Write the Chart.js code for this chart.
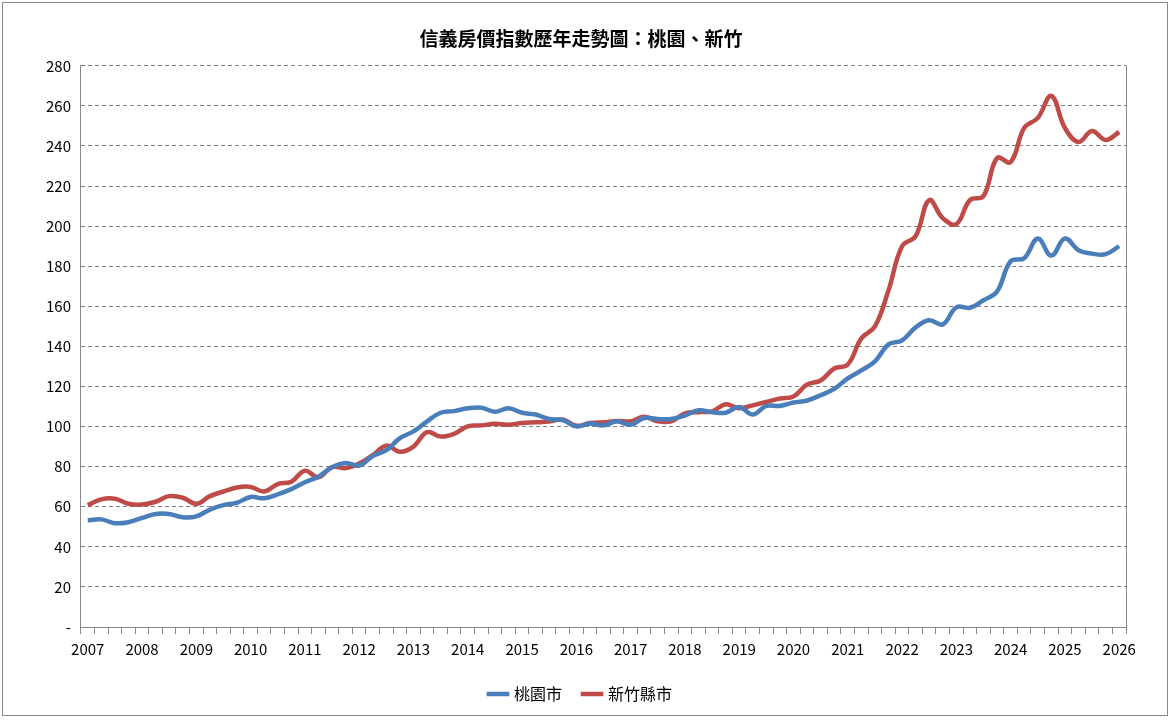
<!DOCTYPE html>
<html><head><meta charset="utf-8">
<script src="https://cdn.jsdelivr.net/npm/chart.js@4"></script>
<style>
html,body{margin:0;padding:0;background:#fff;}
#wrap{position:absolute;left:2px;top:2px;width:1166px;height:714px;border:1px solid #888;box-sizing:border-box;}
</style></head><body>
<div id="wrap"><canvas id="c"></canvas></div>
<script>
const years = ["2007","2008","2009","2010","2011","2012","2013","2014","2015","2016","2017","2018","2019","2020","2021","2022","2023","2024","2025","2026"];
const taoyuan = [53.2,53.7,51.8,52.3,54.4,56.4,56.4,54.7,55.2,58.6,60.8,62,64.9,64.2,66.2,68.8,72.2,75,79.7,81.8,80.6,85.3,88.2,94.2,97.6,102.6,106.9,107.7,109.1,109.4,107.4,109.1,106.9,106,103.8,103.2,100.1,101.5,100.6,102.6,100.9,104.3,103.8,103.8,105.5,108.1,107.2,106.9,109.8,106,110.3,110.3,112,113,115.6,118.8,124,128,132.5,141,143,149.5,153,151,159.5,159.3,163,167.4,182.5,184,193.8,185.3,193.8,188,186.3,186,190];
const hsinchu = [60.8,63.7,64,61.5,61.1,62.5,65.3,64.5,61.5,65.3,67.6,69.6,69.9,67.6,71.3,72.5,78,74.7,79.8,79.3,81.5,85.7,90.5,87.4,90,97.2,95,96.4,100.1,100.6,101.4,100.9,101.8,102.1,102.5,103.5,100.4,101.8,102.1,102.8,102.6,104.9,102.6,102.6,106.6,107.2,107.6,111.1,109.1,110.6,112.3,114,115,121,123,129,131,144,150,168,190,195,213,204,201,213,215,234,232,249,254,265,249,242,247.5,243,247];
const yTicks = [0,20,40,60,80,100,120,140,160,180,200,220,240,260,280];
const labels = taoyuan.map((_, i) => i % 4 === 0 ? years[i/4] : "");
const FONT = "'Noto Sans CJK TC','Liberation Sans',sans-serif";
const borderPlugin = {id:'rb', afterDraw(ch){const a=ch.chartArea,c=ch.ctx;c.save();c.strokeStyle='#888';c.lineWidth=1;c.beginPath();c.moveTo(a.right+0.5,a.top);c.lineTo(a.right+0.5,a.bottom);c.stroke();c.restore();}};
new Chart(document.getElementById('c'), {
  type:'line',
  data:{labels, datasets:[
    {label:'桃園市', data:taoyuan, borderColor:'#4A7EBB', backgroundColor:'#4A7EBB', borderWidth:4.5, pointRadius:0, tension:0.4},
    {label:'新竹縣市', data:hsinchu, borderColor:'#BE4B48', backgroundColor:'#BE4B48', borderWidth:4.5, pointRadius:0, tension:0.4}
  ]},
  options:{
    responsive:true, maintainAspectRatio:false, animation:false,
    layout:{padding:{left:33,right:41,top:12,bottom:3}},
    plugins:{
      title:{display:true,text:'信義房價指數歷年走勢圖：桃園、新竹',color:'#000',font:{family:FONT,size:19,weight:'bold'},padding:{top:12,bottom:16}},
      legend:{position:'bottom',labels:{usePointStyle:true,pointStyle:'line',boxWidth:36,color:'#000',font:{family:FONT,size:16},padding:22}},
      tooltip:{enabled:false}
    },
    scales:{
      x:{offset:true,
         grid:{offset:true,drawOnChartArea:false,tickLength:7,color:'#888'},
         border:{color:'#888'},
         ticks:{autoSkip:false,maxRotation:0,color:'#000',font:{family:FONT,size:15},padding:6}},
      y:{min:0,max:280,afterBuildTicks(ax){ax.ticks=yTicks.map(v=>({value:v}));},
         grid:{color:'#808080',drawTicks:false},
         border:{color:'#888',dash:[4,3]},
         ticks:{color:'#000',font:{family:FONT,size:15},padding:10,callback:v=>v===0?'-':v}}
    }
  },
  plugins:[borderPlugin]
});
</script></body></html>
